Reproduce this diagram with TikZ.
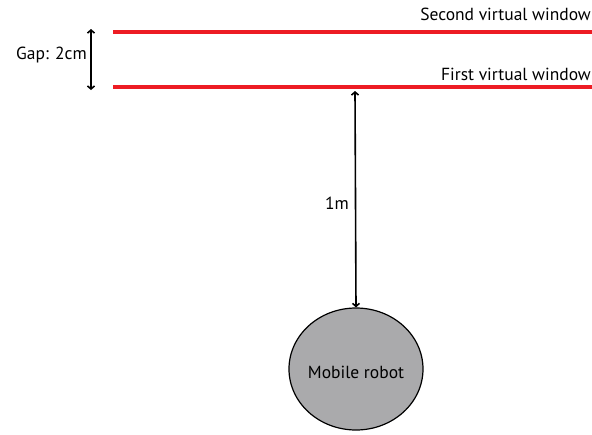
\documentclass[tikz,border=0pt]{standalone}
\usepackage{fontspec}
\setmainfont{PT Sans}
\usetikzlibrary{arrows.meta,shapes.geometric}
\begin{document}
\begin{tikzpicture}[x=1pt,y=-1pt,
  redline/.style={draw={rgb,255:red,237;green,28;blue,36},line width=3.4pt},
  dimarrow/.style={draw=black,line width=1.6pt,{Straight Barb[length=3pt,width=7pt]}-{Straight Barb[length=3pt,width=7pt]}},
  lbl/.style={font=\fontsize{17.5}{20}\selectfont,inner sep=0pt}]
\useasboundingbox (0,0) rectangle (592,434);
\clip (0,0) rectangle (592,434);
% windows
\coordinate (s1) at (113,32);
\coordinate (s2) at (600,32);
\coordinate (f1) at (113,87);
\coordinate (f2) at (600,87);
\draw[redline] (s1) -- (s2);
\draw[redline] (f1) -- (f2);
\node[lbl,anchor=base east] (sw) at (591,20) {Second virtual window};
\node[lbl,anchor=base east] (fw) at (591,80) {First virtual window};
% gap
\coordinate (g1) at (91,29);
\coordinate (g2) at (91,90);
\draw[dimarrow] (g1) -- (g2);
\node[lbl,anchor=east] (gap) at (87,55) {Gap: 2cm};
% robot
\node[ellipse,draw=black,line width=1.2pt,fill={rgb,255:red,170;green,170;blue,172},
  minimum width=134pt,minimum height=122pt,inner sep=0pt] (robot) at (356,369) {};
\node[lbl] (rl) at (356,372) {Mobile robot};
\coordinate (a1) at (355,91);
\draw[dimarrow] (a1) -- (robot.north);
\node[lbl,anchor=east] (m) at (349,203) {1m};
\end{tikzpicture}
\end{document}
